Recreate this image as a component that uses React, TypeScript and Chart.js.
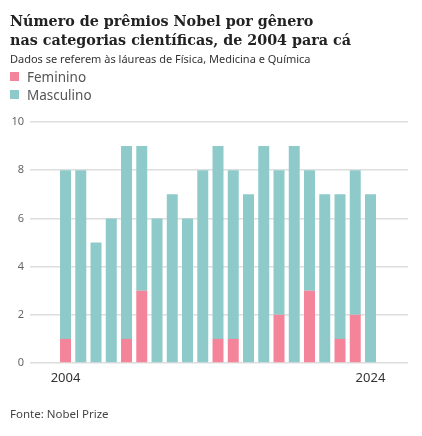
import React, { useEffect, useRef } from 'react';
import { Chart, registerables } from 'chart.js';

Chart.register(...registerables);

// ---- data ----
const years = [2004, 2005, 2006, 2007, 2008, 2009, 2010, 2011, 2012, 2013, 2014, 2015, 2016, 2017, 2018, 2019, 2020, 2021, 2022, 2023, 2024];
const feminino = [1, 0, 0, 0, 1, 3, 0, 0, 0, 0, 1, 1, 0, 0, 2, 0, 3, 0, 1, 2, 0];
const masculino = [7, 8, 5, 6, 8, 6, 6, 7, 6, 8, 8, 7, 7, 9, 6, 9, 5, 7, 6, 6, 7];
const seriesNames = ['Feminino', 'Masculino'];
const seriesColors = ['#f3849a', '#8ecaca'];
const xTickYears = [2004, 2024];
const yTicks = [0, 2, 4, 6, 8, 10];

const TITLE_LINES = ['Número de prêmios Nobel por gênero', 'nas categorias científicas, de 2004 para cá'];
const SUBTITLE = 'Dados se referem às láureas de Física, Medicina e Química';
const SOURCE = 'Fonte: Nobel Prize';

const W = 422;
const H = 436;

export default function App() {
  const canvasRef = useRef<HTMLCanvasElement | null>(null);

  useEffect(() => {
    const canvas = canvasRef.current;
    if (!canvas) return;
    const seriesValues = [feminino, masculino];
    const chart = new Chart(canvas, {
      type: 'bar',
      data: {
        datasets: seriesNames.map((name, si) => ({
          label: name,
          data: years.map((yr, i) => ({ x: yr, y: seriesValues[si][i] })),
          backgroundColor: seriesColors[si],
          borderWidth: 0,
          categoryPercentage: 0.8,
          barPercentage: 0.9,
        })),
      },
      options: {
        animation: false,
        responsive: false,
        maintainAspectRatio: false,
        devicePixelRatio: 1,
        layout: { padding: { top: 122, left: 8, right: 14, bottom: 43.4 } },
        plugins: {
          legend: { display: false },
          tooltip: { enabled: false },
          title: { display: false },
        },
        scales: {
          x: {
            type: 'linear',
            stacked: true,
            min: 2001.67,
            max: 2026.46,
            bounds: 'data',
            offset: false,
            grid: { display: false, drawTicks: false, offset: false },
            border: { display: false },
            afterBuildTicks: (scale: any) => {
              scale.ticks = xTickYears.map((v) => ({ value: v }));
            },
            ticks: {
              autoSkip: false,
              maxRotation: 0,
              padding: 7,
              color: '#333333',
              font: { family: 'Noto Sans', size: 13 },
              callback: (v: any) => String(v),
            },
          },
          y: {
            stacked: true,
            min: 0,
            max: 10,
            afterBuildTicks: (scale: any) => {
              scale.ticks = yTicks.map((v) => ({ value: v }));
            },
            afterFit: (scale: any) => {
              scale.width = 22;
            },
            grid: { color: '#dedede', lineWidth: 1.5, drawTicks: false },
            border: { display: false },
            ticks: {
              padding: 6,
              color: '#666666',
              font: { family: 'Noto Sans', size: 11 },
              callback: (v: any) => String(v),
            },
          },
        },
      },
    } as any);
    return () => chart.destroy();
  }, []);

  return (
    <div
      style={{
        position: 'absolute',
        left: 0,
        top: 0,
        width: W,
        height: H,
        background: '#ffffff',
        overflow: 'hidden',
      }}
    >
      <canvas ref={canvasRef} width={W} height={H} style={{ position: 'absolute', left: 0, top: 0, width: W, height: H }} />
      <div
        style={{
          position: 'absolute',
          left: 10,
          top: 12,
          fontFamily: '"DejaVu Serif", serif',
          fontWeight: 700,
          fontSize: 14.3,
          lineHeight: '19px',
          color: '#222222',
          whiteSpace: 'nowrap',
        }}
      >
        {TITLE_LINES.map((l, i) => (
          <div key={i}>{l}</div>
        ))}
      </div>
      <div
        style={{
          position: 'absolute',
          left: 10,
          top: 52,
          fontFamily: '"Noto Sans", sans-serif',
          fontSize: 11,
          lineHeight: '13px',
          color: '#333333',
          whiteSpace: 'nowrap',
        }}
      >
        {SUBTITLE}
      </div>
      {seriesNames.map((name, i) => (
        <div
          key={name}
          style={{
            position: 'absolute',
            left: 10,
            top: 67.5 + i * 18,
            height: 18,
            display: 'flex',
            alignItems: 'center',
            fontFamily: '"Noto Sans", sans-serif',
            fontSize: 13.5,
            color: '#555555',
            whiteSpace: 'nowrap',
          }}
        >
          <span style={{ display: 'inline-block', width: 9, height: 9, background: seriesColors[i], marginRight: 8 }} />
          <span>{name}</span>
        </div>
      ))}
      <div
        style={{
          position: 'absolute',
          left: 10,
          top: 407,
          fontFamily: '"Noto Sans", sans-serif',
          fontSize: 11.5,
          lineHeight: '14px',
          color: '#444444',
          whiteSpace: 'nowrap',
        }}
      >
        {SOURCE}
      </div>
    </div>
  );
}
